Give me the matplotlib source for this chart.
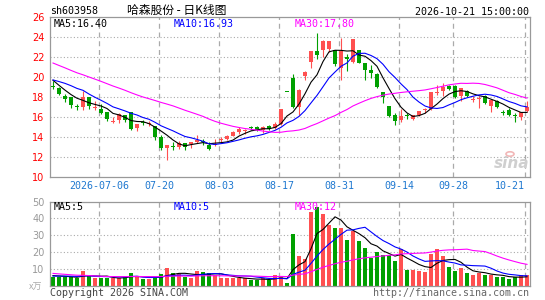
import numpy as np
import pandas as pd
import matplotlib
matplotlib.use('Agg')
import matplotlib.pyplot as plt

# trading days on the chart (Mid-Autumn and National Day closed)
holidays = ['2026-09-25', '2026-10-01', '2026-10-02', '2026-10-05', '2026-10-06', '2026-10-07']
dates = pd.bdate_range('2026-06-24', '2026-10-21')
dates = dates[~dates.isin(pd.to_datetime(holidays))]

tick_dates = ['2026-07-06', '2026-07-20', '2026-08-03', '2026-08-17',
              '2026-08-31', '2026-09-14', '2026-09-28', '2026-10-21']
tick_labels = ['2026-07-06', '07-20', '08-03', '08-17', '08-31', '09-14', '09-28', '10-21']

opens = [19.10, 18.93, 18.07, 17.97, 17.08, 17.00, 18.00, 16.95, 16.80, 16.47,
         15.55, 15.73, 16.23, 16.47, 14.93, 15.48, 15.31, 15.07, 14.00, 12.90,
         13.08, 13.00, 13.40, 13.27, 13.50, 13.58, 13.23, 13.28, 13.71, 13.80,
         14.13, 14.50, 14.65, 14.94, 14.97, 14.67, 15.07, 14.90, 15.33, 18.51,
         19.90, 17.03, 20.08, 21.50, 22.63, 22.75, 22.78, 22.70, 20.90, 21.92,
         21.50, 22.70, 21.37, 20.70, 20.30, 18.53, 17.05, 16.20, 15.67, 16.18,
         15.85, 16.20, 16.71, 16.80, 18.45, 18.63, 19.07, 19.07, 18.07, 18.57,
         17.78, 17.88, 18.07, 17.07, 17.57, 16.48, 16.67, 16.14, 16.00, 16.57]
highs = [19.57, 18.97, 18.27, 18.00, 17.33, 18.57, 18.05, 17.57, 17.33, 16.50,
         16.00, 16.40, 16.25, 16.47, 15.33, 15.73, 15.63, 15.10, 14.23, 13.25,
         13.47, 13.57, 13.42, 13.55, 14.20, 13.80, 13.50, 13.80, 14.00, 14.23,
         14.57, 14.97, 14.85, 15.07, 15.07, 15.07, 15.23, 15.47, 16.83, 18.51,
         20.35, 18.80, 20.56, 22.63, 24.40, 23.66, 23.62, 22.75, 23.90, 22.33,
         23.85, 22.72, 21.40, 21.20, 20.40, 18.53, 17.10, 16.37, 16.80, 16.40,
         16.25, 16.60, 16.90, 18.50, 19.23, 19.40, 19.23, 19.23, 18.92, 18.73,
         18.07, 18.13, 18.23, 17.75, 17.73, 16.73, 16.90, 16.40, 16.47, 17.57]
lows = [18.80, 18.20, 17.47, 16.90, 16.67, 16.67, 16.80, 16.73, 16.33, 15.57,
        15.40, 15.40, 15.55, 14.67, 14.57, 15.20, 15.13, 13.73, 12.73, 11.73,
        12.67, 12.77, 12.67, 12.90, 13.45, 13.17, 12.73, 13.13, 13.40, 13.67,
        14.10, 14.33, 14.30, 14.67, 14.60, 14.40, 14.67, 14.77, 15.23, 18.51,
        16.87, 16.20, 19.66, 20.90, 21.83, 22.00, 22.50, 21.15, 19.70, 20.56,
        21.40, 21.40, 19.70, 19.87, 18.90, 17.37, 16.00, 15.23, 15.55, 15.83,
        15.67, 16.10, 16.40, 16.75, 18.23, 18.13, 18.70, 17.90, 17.63, 18.00,
        17.47, 16.90, 17.33, 16.47, 16.90, 16.23, 16.13, 15.47, 15.73, 16.47]
closes = [19.07, 18.27, 17.80, 17.17, 17.07, 18.00, 17.07, 16.97, 16.40, 15.80,
          15.57, 16.30, 15.73, 14.83, 15.33, 15.47, 15.33, 13.97, 12.90, 13.23,
          13.07, 13.40, 13.00, 13.50, 13.73, 13.57, 12.83, 13.30, 13.73, 14.13,
          14.47, 14.83, 14.67, 14.93, 14.70, 15.00, 14.83, 15.33, 16.83, 18.51,
          17.03, 18.75, 20.50, 22.60, 22.22, 23.65, 23.60, 21.30, 22.55, 21.88,
          23.80, 21.45, 20.70, 20.37, 19.03, 18.03, 16.13, 15.60, 16.13, 16.17,
          16.23, 16.57, 16.73, 18.47, 18.47, 18.97, 18.80, 18.00, 18.90, 18.07,
          17.80, 17.90, 17.40, 17.73, 16.97, 16.47, 16.23, 16.13, 16.47, 17.00]
# volume, 10k lots
volumes = [5.2, 5.2, 5.2, 4.8, 4.2, 8.5, 6.5, 4.2, 4.2, 4.6,
           4.6, 4.6, 5.2, 7.3, 5.2, 3.8, 3.8, 5.0, 6.7, 10.2,
           7.3, 6.9, 5.2, 4.6, 8.5, 7.9, 7.3, 6.5, 4.6, 4.6,
           4.2, 4.2, 4.2, 3.2, 3.2, 4.2, 3.2, 6.0, 5.6, 1.7,
           30.7, 17.4, 15.6, 44.0, 47.0, 42.8, 36.2, 34.4, 34.4, 26.8,
           32.6, 26.2, 22.2, 16.4, 19.9, 18.4, 18.4, 14.4, 21.5, 9.1,
           9.1, 8.5, 7.9, 18.9, 21.8, 17.4, 10.9, 8.5, 10.5, 7.3,
           6.5, 7.4, 6.4, 6.4, 5.0, 5.0, 3.6, 5.0, 6.2, 6.2]

# earlier days (off the left edge), estimated from where the MA lines start
closes_before = [25.6, 25.0, 24.8, 24.3, 24.0, 23.65, 23.4, 23.0, 22.8, 22.6,
                 22.5, 22.3, 22.1, 22.0, 21.7, 20.5, 19.3, 18.6, 18.3, 18.45,
                 19.9, 19.6, 19.5, 19.8, 19.9, 20.8, 20.2, 19.4, 18.9]
volumes_before = [14, 13, 12.5, 12, 11, 10.5, 10.5, 10, 9.1, 6.0,
                  5.5, 5.0, 5.2, 4.8, 5.4, 5.0, 5.3, 4.9, 5.1, 5.2,
                  5.0, 5.5, 5.2, 5.6, 5.2, 6.5, 6.2, 5.8, 5.8]

RED = '#ff5050'
GREEN = '#00a000'
GRID = '#aaaaaa'
FRAME = '#999999'
MONO = 'DejaVu Sans Mono'
W, H = 545, 300

o = np.array(opens)
h = np.array(highs)
l = np.array(lows)
c = np.array(closes)
v = np.array(volumes)
x = np.arange(len(dates))
cols = np.where(c > o, RED, GREEN)


def ma(before, vals, n):
    s = pd.Series(list(before) + list(vals))
    return s.rolling(n).mean().to_numpy()[len(before):]


fig = plt.figure(figsize=(W / 100, H / 100), dpi=100)
ax = fig.add_axes([50 / W, 1 - 177 / H, 480 / W, 160 / H])
axv = fig.add_axes([50 / W, 1 - 285.5 / H, 480 / W, 84 / H])

grid_x = [int(np.where(dates == pd.Timestamp(d))[0][0]) - 1 / 3 for d in tick_dates]

for a in (ax, axv):
    a.set_xlim(-0.5, len(x) - 0.5)
    for gx in grid_x:
        a.axvline(gx, color=GRID, lw=0.9, ls=(0, (4, 3)), zorder=0)
    for s in a.spines.values():
        s.set_color(FRAME)
        s.set_linewidth(0.9)

# candles
body = np.abs(c - o)
bh = np.maximum(body, 0.1)
bottom = np.minimum(o, c) - (bh - body) / 2
ax.vlines(x, l, h, colors=cols, lw=0.8, zorder=2)
ax.bar(x, bh, 0.75, bottom, color=cols, lw=0, zorder=3)

ax.plot(x, ma(closes_before, closes, 5), color='black', lw=0.8, zorder=4)
ax.plot(x, ma(closes_before, closes, 10), color='#0000ff', lw=0.8, zorder=4)
ax.plot(x, ma(closes_before, closes, 30), color='#ff00ff', lw=0.8, zorder=4)

ax.set_ylim(10, 26)
for y in range(12, 26, 2):
    ax.axhline(y, color=GRID, lw=0.8, ls=(0, (1, 2)), zorder=0)
ax.set_yticks(range(10, 27, 2))
ax.tick_params(axis='y', length=0, labelcolor='red', labelsize=7, pad=4)
ax.set_xticks(grid_x)
ax.set_xticklabels(tick_labels, fontfamily=MONO, fontsize=7.2, color='#1f78d0')
ax.get_xticklabels()[-1].set_ha('right')
ax.tick_params(axis='x', length=0, pad=3)

# volume
axv.bar(x, v, 0.83, color=cols, lw=0, zorder=2)
axv.plot(x, ma(volumes_before, volumes, 5), color='black', lw=0.8, zorder=4)
axv.plot(x, ma(volumes_before, volumes, 10), color='#0000ff', lw=0.8, zorder=4)
axv.plot(x, ma(volumes_before, volumes, 30), color='#ff00ff', lw=0.8, zorder=4)
axv.set_ylim(0, 50)
for y in range(10, 50, 10):
    axv.axhline(y, color=GRID, lw=0.8, ls=(0, (1, 2)), zorder=0)
axv.set_yticks(range(10, 51, 10))
axv.tick_params(axis='y', length=0, labelcolor='#999999', labelsize=7, pad=4)
axv.set_xticks([])


def ftext(px, py, s, **kw):
    fig.text(px / W, 1 - py / H, s, va='center', **kw)


ftext(50, 11, 'sh603958', fontfamily=MONO, fontsize=7.2, color='black')
ftext(177, 10, '哈森股份 - 日K线图', ha='center', fontsize=8.5,
      family=['Noto Sans CJK SC', 'DejaVu Sans'], color='black')
ftext(529, 12, '2026-10-21 15:00:00', ha='right', fontfamily=MONO, fontsize=7.2, color='black')

ftext(54, 24, 'MA5:16.40', fontfamily=MONO, fontsize=7.2, color='black')
ftext(174, 24, 'MA10:16.93', fontfamily=MONO, fontsize=7.2, color='#0000ff')
ftext(295, 24, 'MA30:17.80', fontfamily=MONO, fontsize=7.2, color='#ff00ff')
ftext(54, 207, 'MA5:5', fontfamily=MONO, fontsize=7.2, color='black')
ftext(174, 207, 'MA10:5', fontfamily=MONO, fontsize=7.2, color='#0000ff')
ftext(295, 207, 'MA30:12', fontfamily=MONO, fontsize=7.2, color='#ff00ff')

ftext(36, 287, 'x万', ha='center', fontsize=6.5,
      family=['Noto Sans CJK SC', 'DejaVu Sans'], color='#aaaaaa')
ftext(50, 292.5, 'Copyright 2026 SINA.COM', fontfamily=MONO, fontsize=7.2, color='#444444')
ftext(529, 292.5, 'http://finance.sina.com.cn', ha='right', fontfamily=MONO,
      fontsize=7.2, color='#666666')

# sina watermark
ftext(512, 164, 'sina', ha='center', fontsize=11, fontstyle='italic',
      fontweight='bold', color='#cfcfcf')
fig.patches.append(matplotlib.patches.Circle((510 / W, 1 - 154 / H), 4 / W,
                                             transform=fig.transFigure, fill=False,
                                             ec='#f2b8b8', lw=1.2))

fig.savefig('out.png', dpi=100)
